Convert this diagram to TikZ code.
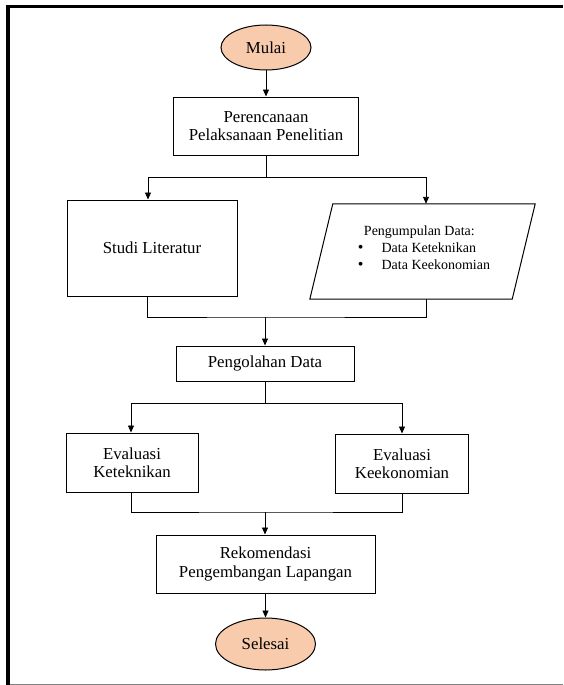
\documentclass[tikz,border=0pt]{standalone}
\usepackage{fontspec}
\setmainfont{Liberation Serif}
\usetikzlibrary{shapes.geometric,arrows.meta}
\definecolor{peach}{RGB}{248,203,173}
\newcommand{\bigbul}{\fontsize{16}{17}\selectfont\textbullet}
\begin{document}
\begin{tikzpicture}[x=1pt,y=-1pt,
  box/.style={draw=black,line width=1pt,rectangle,inner sep=0pt,align=center,font=\fontsize{16.8}{18.5}\selectfont},
  term/.style={draw=black,line width=1pt,ellipse,fill=peach,inner sep=0pt,font=\fontsize{16.8}{18.5}\selectfont},
  conn/.style={line width=0.9pt,black},
  arr/.style={conn,-{Triangle[length=7pt,width=6pt]}}]
\useasboundingbox (0,0) rectangle (563,685);
\fill[black] (6,5) rectangle (563,8.5);
\fill[black] (6,5) rectangle (10,685);
\fill[gray] (10,683.5) rectangle (563,685);

\node[term,minimum width=90,minimum height=45] (mulai) at (266,47.5) {Mulai};
\node[box,minimum width=185,minimum height=58] (plan) at (266,126) {Perencanaan\\Pelaksanaan Penelitian};
\node[box,minimum width=170,minimum height=96] (studi) at (152,248) {Studi Literatur};
\node[inner sep=0pt,minimum width=225,minimum height=95] (data) at (422.5,251.5) {};
\draw[line width=1pt,black] ([xshift=23pt]data.north west) -- (data.north east) -- ([xshift=-23pt]data.south east) -- (data.south west) -- cycle;
\node[font=\fontsize{14}{17}\selectfont,inner sep=0pt] (datatxt) at (424,249.5) {\begin{tabular}{@{}l@{\hspace{18pt}}l@{}}\multicolumn{2}{@{}l@{}}{\hspace{6pt}Pengumpulan Data:}\\ \bigbul & Data Keteknikan\\ \bigbul & Data Keekonomian\end{tabular}};
\node[box,minimum width=178,minimum height=35] (proc) at (265,363.5) {Pengolahan Data};
\node[box,minimum width=132,minimum height=59] (evt) at (132,462.5) {Evaluasi\\Keteknikan};
\node[box,minimum width=133,minimum height=59] (eve) at (402,463.5) {Evaluasi\\Keekonomian};
\node[box,minimum width=219,minimum height=58] (rek) at (265.5,564) {Rekomendasi\\Pengembangan Lapangan};
\node[term,minimum width=100,minimum height=52] (selesai) at (265.5,644) {Selesai};

\coordinate (s1) at (266,177);
\coordinate (m1) at (265,317);
\coordinate (s2) at (265,403);
\coordinate (m2) at (265,512);

\draw[arr] (mulai.south) -- (mulai.south |- plan.north);
\draw[conn] (plan.south) -- (s1);
\draw[arr] (s1) -| ([xshift=-4pt]studi.north);
\draw[arr] (s1) -| ([xshift=3.5pt]data.north);
\draw[conn] ([xshift=-5pt]studi.south) |- (m1) -| ([xshift=3.5pt]data.south);
\draw[arr] (m1) -- (m1 |- proc.north);
\draw[conn] (proc.south) -- (s2);
\draw[arr] (s2) -| ([xshift=-1pt]evt.north);
\draw[arr] (s2) -| (eve.north);
\draw[conn] ([xshift=-1pt]evt.south) |- (m2) -| (eve.south);
\draw[arr] (m2) -- (m2 |- rek.north);
\draw[arr] (rek.south) -- (rek.south |- selesai.north);
\end{tikzpicture}
\end{document}
